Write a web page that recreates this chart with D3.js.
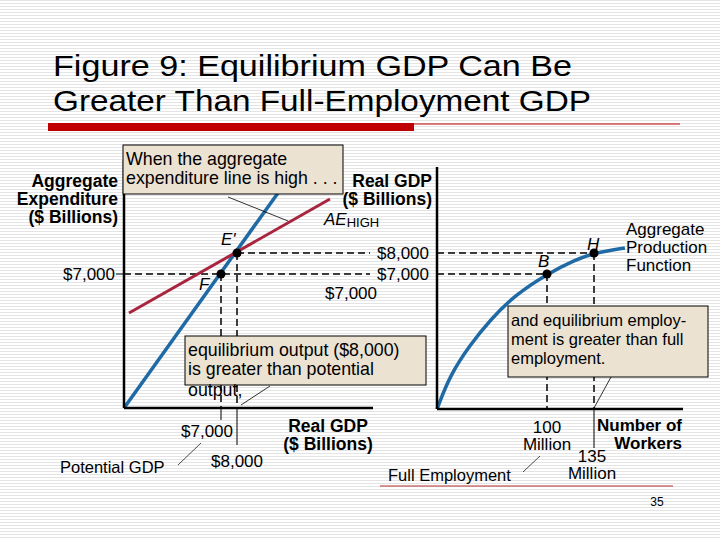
<!DOCTYPE html>
<html><head><meta charset="utf-8">
<script src="https://cdn.jsdelivr.net/npm/d3@7"></script>
<style>body{margin:0;background:#fff}svg{display:block}text{font-family:"Liberation Sans",Arial,sans-serif}</style>
</head><body>
<svg id="chart" width="720" height="540"></svg>
<script>
// schematic data ($ billions / millions of workers)
const aeBlue = [[940, 620], [10560, 10860]];          // 45-degree line
const aeHigh = [[1250, 5140], [13810, 10570]];         // AE_HIGH
const pointF = [7000, 7000], pointE = [8000, 8000];
const prodFn = [[18.1, 571], [27.8, 2190], [42.7, 3620], [57.6, 4810], [76.2, 6000], [100, 7000], [120.8, 7670], [135, 8000], [158, 8240]];
const pointB = [100, 7000], pointH = [135, 8000];
const gdpTicks = [7000, 8000];
const workerTicks = [100, 135];

const svg = d3.select("#chart");
const money = d3.format("$,");

// striped slide background
const pat = svg.append("defs").append("pattern").attr("id", "stripes")
  .attr("width", 4).attr("height", 3).attr("patternUnits", "userSpaceOnUse");
pat.append("rect").attr("width", 4).attr("height", 3).attr("fill", "#fff");
pat.append("rect").attr("width", 4).attr("height", 1).attr("fill", "#e4e4e4");
svg.append("rect").attr("width", 720).attr("height", 540).attr("fill", "url(#stripes)");

// title
svg.append("text").attr("x", 53).attr("y", 76).attr("font-size", 29)
  .attr("font-family", "DejaVu Sans Condensed, DejaVu Sans").attr("textLength", 519).attr("lengthAdjust", "spacingAndGlyphs")
  .text("Figure 9:  Equilibrium GDP Can Be");
svg.append("text").attr("x", 53).attr("y", 111).attr("font-size", 29)
  .attr("font-family", "DejaVu Sans Condensed, DejaVu Sans").attr("textLength", 538).attr("lengthAdjust", "spacingAndGlyphs")
  .text("Greater Than Full-Employment GDP");
svg.append("rect").attr("x", 48).attr("y", 123).attr("width", 366).attr("height", 8).attr("fill", "#c00000");
svg.append("line").attr("x1", 414).attr("x2", 680).attr("y1", 124).attr("y2", 124).attr("stroke", "#c00000").attr("stroke-width", 1);
svg.append("line").attr("x1", 380).attr("x2", 673).attr("y1", 486).attr("y2", 486).attr("stroke", "#b03030").attr("stroke-width", 1);
svg.append("text").attr("x", 657).attr("y", 506).attr("font-size", 12).attr("text-anchor", "middle").text("35");

// scales
const xL = d3.scaleLinear().domain([7000, 8000]).range([221, 237]);
const yS = d3.scaleLinear().domain([7000, 8000]).range([274, 253]);
const xR = d3.scaleLinear().domain([100, 135]).range([547, 594]);
const blue = "#1f6aa5", red = "#a8243f";

function txt(x, y, s, o = {}) {
  return svg.append("text").attr("x", x).attr("y", y).attr("font-size", o.size || 17)
    .attr("text-anchor", o.anchor || "start").attr("font-weight", o.bold ? "bold" : null)
    .attr("font-style", o.italic ? "italic" : null).text(s);
}
function seg(x1, y1, x2, y2, o = {}) {
  return svg.append("line").attr("x1", x1).attr("y1", y1).attr("x2", x2).attr("y2", y2)
    .attr("stroke", o.color || "#000").attr("stroke-width", o.w || 1)
    .attr("stroke-dasharray", o.dash ? "7,4" : null);
}
function box(x, y, w, h, lines, size) {
  svg.append("rect").attr("x", x).attr("y", y).attr("width", w).attr("height", h)
    .attr("fill", "#ebe2d2").attr("stroke", "#000").attr("stroke-width", 1);
  lines.forEach((l, i) => txt(x + 3, y + 20 + i * 19, l, { size: size || 17.8 }));
}

// ---------- left panel ----------
const oL = [124, 408];
seg(oL[0], yS(7000), 370, yS(7000), { dash: true, w: 1.5 });
seg(xL(8000), yS(8000), 370, yS(8000), { dash: true, w: 1.5 });
seg(xL(7000), yS(7000), xL(7000), oL[1], { dash: true, w: 1.5 });
seg(xL(8000), yS(8000), xL(8000), oL[1], { dash: true, w: 1.5 });
seg(xL(7000), oL[1], xL(7000), 420);
seg(xL(8000), oL[1], xL(8000), 445);
seg(116, yS(7000), oL[0], yS(7000));

const lineL = d3.line().x(d => xL(d[0])).y(d => yS(d[1]));
svg.append("path").attr("d", lineL(aeBlue)).attr("stroke", blue).attr("stroke-width", 3.5).attr("fill", "none");
svg.append("path").attr("d", lineL(aeHigh)).attr("stroke", red).attr("stroke-width", 3).attr("fill", "none");
seg(oL[0], 160, oL[0], oL[1], { w: 2.5 });
seg(oL[0], oL[1], 373, oL[1], { w: 2.5 });
[pointF, pointE].forEach(p => svg.append("circle").attr("cx", xL(p[0])).attr("cy", yS(p[1])).attr("r", 4.5));

txt(115, yS(7000) + 6, money(gdpTicks[0]), { anchor: "end" });
txt(xL(7000) - 14, 437, money(gdpTicks[0]), { anchor: "middle" });
txt(xL(8000), 467, money(gdpTicks[1]), { anchor: "middle" });
txt(429, yS(8000) + 6, money(gdpTicks[1]), { anchor: "end" });
txt(429, yS(7000) + 6, money(gdpTicks[0]), { anchor: "end" });
txt(325, yS(7000) + 25, money(gdpTicks[0]));
txt(221, 245, "E'", { italic: true });
txt(199, 290, "F", { italic: true });
const ae = txt(324, 225, "AE", { italic: true });
ae.append("tspan").attr("font-style", "normal").attr("font-size", 13).attr("dy", 2).text("HIGH");

txt(118, 187, "Aggregate", { anchor: "end", bold: true, size: 17.5 });
txt(118, 205, "Expenditure", { anchor: "end", bold: true, size: 17.5 });
txt(118, 223, "($ Billions)", { anchor: "end", bold: true, size: 17.5 });
txt(432, 187, "Real GDP", { anchor: "end", bold: true, size: 17.5 });
txt(432, 205, "($ Billions)", { anchor: "end", bold: true, size: 17.5 });
txt(328, 432, "Real GDP", { anchor: "middle", bold: true, size: 17.5 });
txt(328, 450, "($ Billions)", { anchor: "middle", bold: true, size: 17.5 });
txt(60, 473, "Potential GDP", { size: 16.5 });
seg(178, 465, 201, 443, { w: 0.7 });

box(123, 145, 220, 49, ["When the aggregate", "expenditure line is high . . ."]);
seg(228, 197, 288, 221, { w: 0.8 });
box(185, 336, 241, 49, ["equilibrium output ($8,000)", "is greater than potential"]);
txt(188, 396, "output,", { size: 17.8 });
seg(241, 405, 270, 386, { w: 0.8 });

// ---------- right panel ----------
const oR = [437, 409];
seg(oR[0], yS(7000), xR(100), yS(7000), { dash: true, w: 1.5 });
seg(oR[0], yS(8000), xR(135), yS(8000), { dash: true, w: 1.5 });
seg(xR(100), yS(7000), xR(100), oR[1], { dash: true, w: 1.5 });
seg(xR(135), yS(8000), xR(135), oR[1], { dash: true, w: 1.5 });
seg(xR(135), oR[1], xR(135), 448);
const lineR = d3.line().x(d => xR(d[0])).y(d => yS(d[1])).curve(d3.curveBasis);
svg.append("path").attr("d", lineR(prodFn)).attr("stroke", blue).attr("stroke-width", 3.5).attr("fill", "none");
seg(oR[0], 167, oR[0], oR[1], { w: 2.5 });
seg(oR[0], oR[1], 683, oR[1], { w: 2.5 });
[pointB, pointH].forEach(p => svg.append("circle").attr("cx", xR(p[0])).attr("cy", yS(p[1])).attr("r", 4.5));
txt(538, 267, "B", { italic: true });
txt(587, 250, "H", { italic: true });
txt(626, 235, "Aggregate"); txt(626, 253, "Production"); txt(626, 271, "Function");

txt(xR(workerTicks[0]), 433, String(workerTicks[0]), { anchor: "middle" });
txt(xR(workerTicks[0]), 450, "Million", { anchor: "middle" });
txt(xR(workerTicks[1]) - 2, 462, String(workerTicks[1]), { anchor: "middle" });
txt(xR(workerTicks[1]) - 2, 479, "Million", { anchor: "middle" });
txt(682, 431, "Number of", { anchor: "end", bold: true });
txt(682, 449, "Workers", { anchor: "end", bold: true });
txt(388, 481, "Full Employment", { size: 16.5 });
seg(523, 472, 540, 456, { w: 0.7 });

box(508, 306, 200, 71, ["and equilibrium employ-", "ment is greater than full", "employment."], 16.5);
seg(594, 408, 611, 377, { w: 0.8 });
</script>
</body></html>
